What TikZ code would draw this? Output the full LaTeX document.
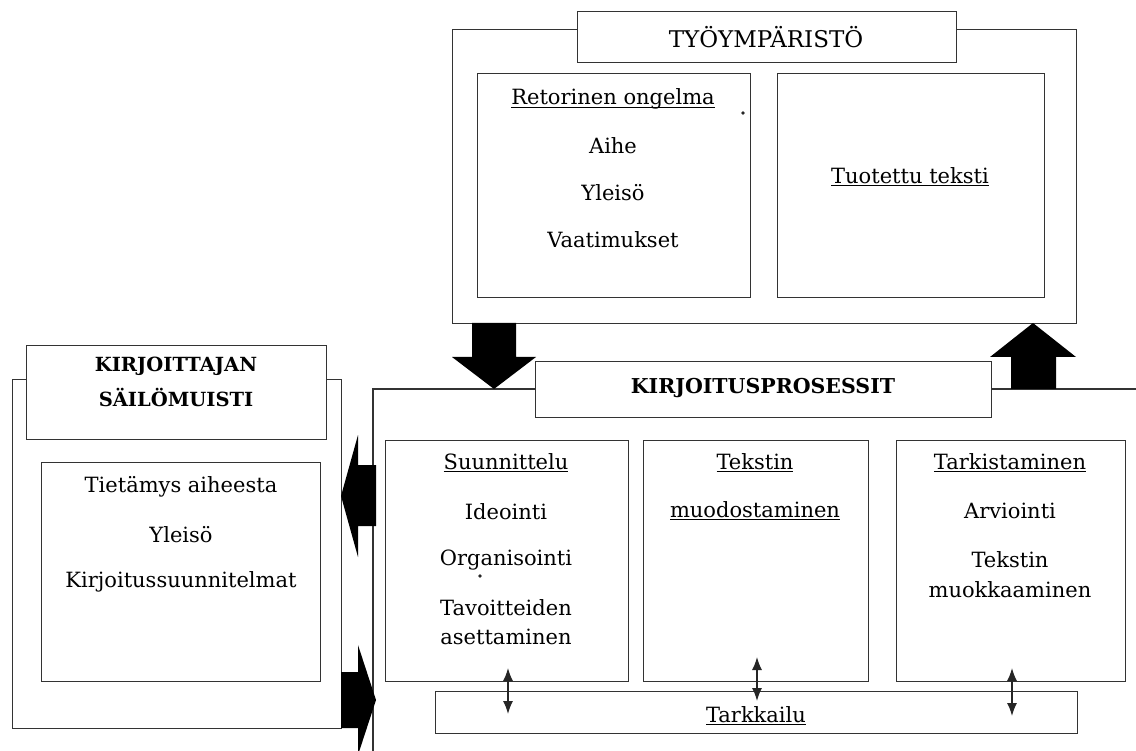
\documentclass[tikz,border=0pt]{standalone}
\usepackage{fontspec}
\setmainfont{DejaVu Serif}
\usetikzlibrary{arrows.meta}
\newcommand{\uln}[1]{\setbox0\hbox{#1}\rlap{\rule[-3pt]{\wd0}{1.1pt}}\box0}
\begin{document}
\begin{tikzpicture}[x=1pt,y=-1pt,
  box/.style={draw=black!80, line width=1.3pt, fill=white, inner sep=0pt, anchor=north west},
  lbl/.style={inner sep=0pt, font=\fontsize{21}{25}\selectfont, text=black},
  ttl/.style={inner sep=0pt, font=\fontsize{23}{26}\selectfont, text=black},
  ttlb/.style={inner sep=0pt, font=\fontsize{20.5}{25}\selectfont\bfseries, text=black},
  blk/.style={fill=black, draw=none},
  dotmark/.style={fill=black!85},
  dbl/.style={{Latex[length=13pt,width=10pt]}-{Latex[length=13pt,width=10pt]}, line width=1.4pt, draw=black!85}]
\clip (0,0) rectangle (1136,751);
\fill[white] (0,0) rectangle (1136,751);

% ---------- outer frames ----------
\node[box, minimum width=624pt, minimum height=294pt] (work) at (452,29) {};
\node[box, minimum width=329pt, minimum height=349pt] (mem) at (12,379) {};
\coordinate (kpBL) at (373,760);
\coordinate (kpTR) at (1145,389);
\draw[draw=black!80, line width=1.3pt] (kpBL) |- (kpTR);

% ---------- title boxes ----------
\node[box, minimum width=379pt, minimum height=51pt] (workT) at (577,11) {};
\node[ttl] (workTt) at (766,37) {TYÖYMPÄRISTÖ};

\node[box, minimum width=456pt, minimum height=56pt] (kpT) at (535,361) {};
\node[ttlb] (kpTt) at (763,388) {KIRJOITUSPROSESSIT};

\node[box, minimum width=300pt, minimum height=94pt] (memT) at (26,345) {};
\node[ttlb, font=\fontsize{19.5}{24}\selectfont\bfseries] (memTt1) at (176,366) {KIRJOITTAJAN};
\node[ttlb, font=\fontsize{19.5}{24}\selectfont\bfseries] (memTt2) at (176,397) {SÄILÖMUISTI};

% ---------- work environment inner boxes ----------
\node[box, minimum width=273pt, minimum height=224pt] (rhet) at (477,73) {};
\node[lbl] (rhet0) at (613,99) {\uln{Retorinen ongelma}};
\node[lbl] (rhet1) at (613,146) {Aihe};
\node[lbl] (rhet2) at (613,193) {Yleisö};
\node[lbl] (rhet3) at (613,240) {Vaatimukset};
\fill[dotmark] (743,113) circle (1.8pt);

\node[box, minimum width=267pt, minimum height=224pt] (prod) at (777,73) {};
\node[lbl] (prod0) at (910,177) {\uln{Tuotettu teksti}};

% ---------- memory inner box ----------
\node[box, minimum width=279pt, minimum height=219pt] (know) at (41,462) {};
\node[lbl] (know1) at (181,487) {Tietämys aiheesta};
\node[lbl] (know2) at (181,535) {Yleisö};
\node[lbl] (know3) at (181,582) {Kirjoitussuunnitelmat};

% ---------- process boxes ----------
\node[box, minimum width=243pt, minimum height=241pt] (plan) at (385,440) {};
\node[lbl] (plan0) at (506,463) {\uln{Suunnittelu}};
\node[lbl] (plan1) at (506,512) {Ideointi};
\node[lbl] (plan2) at (506,560) {Organisointi};
\fill[dotmark] (480,576) circle (1.8pt);
\node[lbl] (plan3) at (506,608) {Tavoitteiden};
\node[lbl] (plan4) at (506,637) {asettaminen};

\node[box, minimum width=225pt, minimum height=241pt] (trans) at (643,440) {};
\node[lbl] (trans0) at (755,463) {\uln{Tekstin}};
\node[lbl] (trans1) at (755,511) {\uln{muodostaminen}};

\node[box, minimum width=229pt, minimum height=241pt] (rev) at (896,440) {};
\node[lbl] (rev0) at (1010,463) {\uln{Tarkistaminen}};
\node[lbl] (rev1) at (1010,511) {Arviointi};
\node[lbl] (rev2) at (1010,560) {Tekstin};
\node[lbl] (rev3) at (1010,590) {muokkaaminen};

\node[box, minimum width=642pt, minimum height=42pt] (mon) at (435,691) {};
\node[lbl] (mon0) at (756,716) {\uln{Tarkkailu}};

% ---------- block arrows ----------
\fill[blk] (472,323) -- (516,323) -- (516,357) -- (536,357) -- (494,389) -- (452,357) -- (472,357) -- cycle;
\fill[blk] (1033,323) -- (1076,357) -- (1056,357) -- (1056,389) -- (1011,389) -- (1011,357) -- (990,357) -- cycle;
\fill[blk] (341,496) -- (358,435) -- (358,465) -- (376,465) -- (376,526) -- (358,526) -- (358,557) -- cycle;
\fill[blk] (341,672) -- (358,672) -- (358,645) -- (376,700) -- (358,755) -- (358,728) -- (341,728) -- cycle;

% ---------- monitoring arrows ----------
\coordinate (d1a) at (508,668); \coordinate (d1b) at (508,714);
\coordinate (d2a) at (757,657); \coordinate (d2b) at (757,701);
\coordinate (d3a) at (1012,668); \coordinate (d3b) at (1012,716);
\draw[dbl] (d1a) -- (d1b);
\draw[dbl] (d2a) -- (d2b);
\draw[dbl] (d3a) -- (d3b);
\end{tikzpicture}
\end{document}
